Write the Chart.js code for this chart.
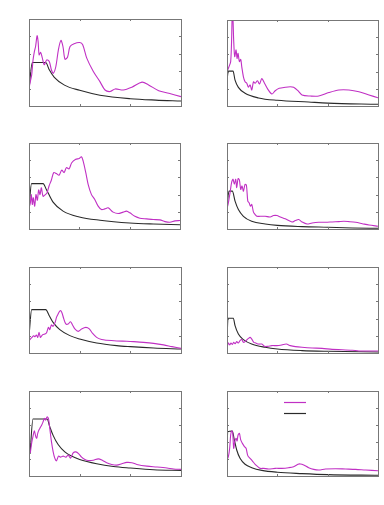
<!DOCTYPE html>
<html>
<head>
<meta charset="utf-8">
<script src="https://cdn.jsdelivr.net/npm/chart.js@4/dist/chart.umd.min.js"></script>
<style>
  html, body { margin: 0; padding: 0; background: #fff; }
  body { width: 384px; height: 505px; position: relative; overflow: hidden; }
  .panel { position: absolute; }
</style>
</head>
<body>
<div class="panel" id="p1" style="left:26px;top:16px;width:158px;height:93px"><canvas id="c1"></canvas></div>
<div class="panel" id="p2" style="left:224px;top:17px;width:157px;height:92px"><canvas id="c2"></canvas></div>
<div class="panel" id="p3" style="left:26px;top:140px;width:157px;height:92px"><canvas id="c3"></canvas></div>
<div class="panel" id="p4" style="left:224px;top:140px;width:157px;height:92px"><canvas id="c4"></canvas></div>
<div class="panel" id="p5" style="left:26px;top:264px;width:158px;height:92px"><canvas id="c5"></canvas></div>
<div class="panel" id="p6" style="left:224px;top:264px;width:157px;height:92px"><canvas id="c6"></canvas></div>
<div class="panel" id="p7" style="left:26px;top:388px;width:158px;height:91px"><canvas id="c7"></canvas></div>
<div class="panel" id="p8" style="left:224px;top:388px;width:157px;height:91px"><canvas id="c8"></canvas></div>
<script>
// axis ranges and tick positions
const xTicks = [0, 1, 2, 3];
const yTicks = [0, 1, 2, 3, 4, 5];

// record spectra (purple), period and value per panel
const recT1 = [0, 0.026, 0.053, 0.08, 0.106, 0.13, 0.16, 0.18, 0.2, 0.23, 0.26, 0.3, 0.35, 0.4, 0.44, 0.48, 0.53, 0.58, 0.63, 0.67, 0.71, 0.76, 0.81, 0.89, 1.0, 1.06, 1.14, 1.27, 1.4, 1.5, 1.6, 1.7, 1.86, 2.03, 2.23, 2.36, 2.56, 2.76, 3.0];
const recSa1 = [1.02, 1.4, 1.79, 2.65, 3.13, 3.42, 4.04, 3.7, 2.94, 3.08, 2.8, 2.37, 2.65, 2.56, 2.1, 1.88, 2.27, 3.23, 3.77, 3.42, 2.69, 2.8, 3.42, 3.58, 3.65, 3.52, 2.75, 1.98, 1.4, 0.92, 0.83, 0.98, 0.92, 1.08, 1.37, 1.21, 0.88, 0.73, 0.54];

const recT2 = [0, 0.04, 0.073, 0.093, 0.106, 0.12, 0.133, 0.153, 0.18, 0.2, 0.22, 0.246, 0.273, 0.293, 0.326, 0.359, 0.393, 0.426, 0.459, 0.492, 0.526, 0.559, 0.605, 0.645, 0.692, 0.745, 0.812, 0.892, 0.958, 1.038, 1.158, 1.258, 1.324, 1.41, 1.49, 1.657, 1.823, 2.023, 2.222, 2.422, 2.621, 2.821, 3.0];
const recSa2 = [2.0, 2.29, 2.58, 4.0, 5.8, 5.0, 3.8, 2.87, 3.26, 2.77, 3.06, 2.58, 2.71, 2.29, 1.7, 1.41, 1.32, 1.09, 1.22, 0.93, 1.41, 1.32, 1.47, 1.28, 1.59, 1.32, 0.97, 0.7, 0.89, 1.03, 1.09, 1.12, 1.09, 0.89, 0.64, 0.58, 0.58, 0.78, 0.93, 0.93, 0.83, 0.64, 0.48];

const recT3 = [0, 0.027, 0.046, 0.066, 0.086, 0.113, 0.139, 0.166, 0.192, 0.219, 0.246, 0.279, 0.325, 0.358, 0.398, 0.445, 0.491, 0.544, 0.597, 0.65, 0.697, 0.743, 0.796, 0.849, 0.929, 0.995, 1.042, 1.075, 1.128, 1.175, 1.241, 1.307, 1.374, 1.44, 1.506, 1.573, 1.672, 1.772, 1.871, 1.938, 2.004, 2.104, 2.203, 2.336, 2.468, 2.601, 2.701, 2.8, 2.9, 3.0];
const recSa3 = [1.23, 1.52, 2.0, 1.43, 1.82, 1.33, 2.0, 1.67, 2.27, 2.0, 2.4, 1.9, 2.0, 2.1, 2.5, 2.85, 3.28, 3.22, 3.13, 3.42, 3.28, 3.57, 3.5, 3.85, 4.05, 4.1, 4.2, 3.96, 3.28, 2.6, 2.0, 1.72, 1.33, 1.13, 1.17, 1.23, 0.98, 0.9, 0.98, 1.04, 0.94, 0.74, 0.63, 0.59, 0.55, 0.53, 0.43, 0.39, 0.47, 0.49];

const recT4 = [0, 0.027, 0.06, 0.093, 0.12, 0.146, 0.173, 0.193, 0.22, 0.246, 0.273, 0.299, 0.326, 0.359, 0.386, 0.413, 0.439, 0.466, 0.492, 0.526, 0.559, 0.592, 0.659, 0.758, 0.858, 0.925, 0.992, 1.058, 1.158, 1.291, 1.357, 1.424, 1.49, 1.59, 1.69, 1.823, 1.956, 2.089, 2.222, 2.322, 2.422, 2.555, 2.688, 2.821, 3.0];
const recSa4 = [1.17, 1.52, 2.1, 2.73, 2.89, 2.6, 2.89, 2.4, 2.93, 2.85, 2.3, 2.5, 2.2, 2.6, 2.54, 1.62, 1.52, 1.33, 1.43, 0.98, 0.84, 0.74, 0.74, 0.74, 0.7, 0.78, 0.78, 0.7, 0.59, 0.41, 0.49, 0.55, 0.41, 0.29, 0.35, 0.39, 0.39, 0.41, 0.43, 0.45, 0.43, 0.39, 0.31, 0.23, 0.16];

const recT5 = [0, 0.026, 0.059, 0.093, 0.119, 0.145, 0.172, 0.198, 0.225, 0.251, 0.278, 0.311, 0.344, 0.383, 0.41, 0.443, 0.476, 0.516, 0.542, 0.575, 0.615, 0.648, 0.687, 0.727, 0.773, 0.82, 0.859, 0.905, 0.972, 1.038, 1.124, 1.19, 1.256, 1.335, 1.434, 1.533, 1.732, 1.93, 2.062, 2.26, 2.459, 2.657, 2.822, 3.0];
const recSa5 = [0.72, 0.81, 0.91, 1.0, 0.95, 1.05, 0.91, 1.2, 0.91, 1.0, 1.07, 1.1, 1.16, 1.49, 1.36, 1.63, 1.55, 1.78, 2.07, 2.27, 2.46, 2.36, 1.98, 1.69, 1.69, 1.82, 1.63, 1.4, 1.26, 1.4, 1.49, 1.4, 1.14, 0.91, 0.78, 0.74, 0.7, 0.68, 0.66, 0.62, 0.56, 0.47, 0.37, 0.27];

const recT6 = [0, 0.027, 0.053, 0.08, 0.106, 0.133, 0.16, 0.193, 0.226, 0.259, 0.293, 0.326, 0.359, 0.399, 0.426, 0.459, 0.492, 0.532, 0.572, 0.625, 0.692, 0.745, 0.812, 0.892, 0.991, 1.091, 1.178, 1.257, 1.357, 1.49, 1.69, 1.89, 2.089, 2.289, 2.488, 2.621, 2.821, 3.0];
const recSa6 = [0.33, 0.58, 0.47, 0.58, 0.5, 0.62, 0.54, 0.66, 0.58, 0.72, 0.78, 0.62, 0.66, 0.78, 0.85, 0.91, 0.81, 0.62, 0.58, 0.52, 0.52, 0.39, 0.39, 0.43, 0.43, 0.47, 0.52, 0.43, 0.37, 0.33, 0.29, 0.27, 0.21, 0.19, 0.16, 0.12, 0.12, 0.12];

const recT7 = [0.026, 0.053, 0.079, 0.106, 0.132, 0.152, 0.172, 0.198, 0.225, 0.251, 0.278, 0.304, 0.33, 0.357, 0.383, 0.41, 0.443, 0.476, 0.509, 0.542, 0.582, 0.621, 0.674, 0.727, 0.773, 0.82, 0.872, 0.925, 0.978, 1.038, 1.104, 1.17, 1.269, 1.368, 1.454, 1.533, 1.632, 1.732, 1.831, 1.93, 2.029, 2.128, 2.327, 2.525, 2.723, 2.855, 3.0];
const recSa7 = [1.36, 1.95, 2.33, 2.66, 2.33, 2.22, 2.51, 2.72, 2.86, 3.0, 3.19, 3.39, 3.29, 3.48, 3.39, 2.8, 2.02, 1.44, 1.05, 0.89, 1.17, 1.11, 1.17, 1.11, 1.23, 1.05, 1.36, 1.42, 1.32, 1.11, 0.97, 0.91, 0.93, 1.01, 0.91, 0.78, 0.68, 0.64, 0.72, 0.8, 0.78, 0.68, 0.58, 0.53, 0.47, 0.41, 0.39];

const recT8 = [0, 0.027, 0.053, 0.073, 0.093, 0.113, 0.133, 0.153, 0.18, 0.2, 0.22, 0.246, 0.273, 0.306, 0.346, 0.379, 0.413, 0.459, 0.506, 0.559, 0.612, 0.659, 0.725, 0.825, 0.958, 1.091, 1.224, 1.324, 1.41, 1.457, 1.524, 1.623, 1.723, 1.823, 1.956, 2.156, 2.355, 2.555, 2.755, 3.0];
const recSa8 = [0.94, 1.14, 1.63, 2.41, 2.65, 2.51, 1.63, 2.02, 2.22, 2.06, 2.41, 2.51, 2.12, 1.92, 1.73, 1.63, 1.2, 1.04, 0.88, 0.69, 0.55, 0.45, 0.45, 0.41, 0.45, 0.45, 0.49, 0.55, 0.69, 0.71, 0.65, 0.49, 0.39, 0.35, 0.41, 0.43, 0.41, 0.39, 0.35, 0.31];

// design spectra (black)
const desT1 = [0, 0.066, 0.33, 0.4, 0.5, 0.7, 1.0, 1.4, 2.0, 2.5, 3.0];
const desSa1 = [1.0, 2.5, 2.5, 2.08, 1.65, 1.2, 0.9, 0.62, 0.42, 0.34, 0.29];

const desT2 = [0, 0.027, 0.12, 0.16, 0.226, 0.359, 0.625, 1.0, 1.62, 2.0, 3.0];
const desSa2 = [1.5, 2.03, 2.03, 1.5, 1.08, 0.74, 0.47, 0.33, 0.23, 0.17, 0.1];

const desT3 = [0, 0.05, 0.28, 0.345, 0.478, 0.677, 1.0, 1.41, 2.0, 2.47, 3.0];
const desSa3 = [1.2, 2.64, 2.64, 2.3, 1.56, 1.04, 0.7, 0.51, 0.35, 0.29, 0.25];

const desT4 = [0, 0.04, 0.106, 0.16, 0.226, 0.326, 0.49, 0.76, 1.0, 1.49, 2.0, 2.49, 3.0];
const desSa4 = [1.3, 2.2, 2.2, 1.62, 1.13, 0.74, 0.45, 0.29, 0.21, 0.14, 0.1, 0.06, 0.04];

const desT5 = [0, 0.053, 0.33, 0.4, 0.476, 0.608, 0.806, 1.0, 1.335, 1.73, 2.0, 2.46, 3.0];
const desSa5 = [1.0, 2.52, 2.52, 2.17, 1.78, 1.36, 1.01, 0.81, 0.58, 0.43, 0.37, 0.29, 0.23];

const desT6 = [0, 0.02, 0.126, 0.16, 0.226, 0.326, 0.49, 0.758, 1.0, 1.49, 2.0, 3.0];
const desSa6 = [0.8, 2.02, 2.02, 1.59, 1.1, 0.78, 0.52, 0.33, 0.23, 0.14, 0.1, 0.06];

const desT7 = [0.02, 0.079, 0.357, 0.41, 0.476, 0.575, 0.707, 0.839, 1.0, 1.335, 1.666, 2.0, 2.46, 3.0];
const desSa7 = [1.3, 3.35, 3.35, 2.9, 2.39, 1.85, 1.42, 1.17, 0.97, 0.72, 0.56, 0.47, 0.37, 0.33];

const desT8 = [0, 0.013, 0.106, 0.146, 0.193, 0.259, 0.359, 0.492, 0.692, 1.0, 1.49, 2.0, 3.0];
const desSa8 = [0.9, 2.61, 2.65, 2.12, 1.53, 1.04, 0.69, 0.49, 0.33, 0.22, 0.14, 0.08, 0.04];

const recordColor = '#c030c4';
const designColor = '#2a2a2a';
const frameColor = '#777777';

function toPoints(xs, ys) {
    return xs.map((x, i) => ({ x: x, y: ys[i] }));
}

// box round the plot area with short ticks pointing inwards
const framePlugin = {
    id: 'frame',
    afterDatasetsDraw(chart) {
        const a = chart.chartArea;
        const c = chart.ctx;
        const xs = chart.scales.x;
        const ys = chart.scales.y;
        c.save();
        c.strokeStyle = frameColor;
        c.lineWidth = 1;
        c.strokeRect(Math.round(a.left) + 0.5, Math.round(a.top) + 0.5,
                     Math.round(a.right - a.left), Math.round(a.bottom - a.top));
        c.beginPath();
        xTicks.forEach(t => {
            const px = Math.round(xs.getPixelForValue(t)) + 0.5;
            c.moveTo(px, a.top); c.lineTo(px, a.top + 2);
            c.moveTo(px, a.bottom); c.lineTo(px, a.bottom - 2);
        });
        yTicks.forEach(t => {
            const py = Math.round(ys.getPixelForValue(t)) + 0.5;
            c.moveTo(a.left, py); c.lineTo(a.left + 2, py);
            c.moveTo(a.right, py); c.lineTo(a.right - 2, py);
        });
        c.stroke();
        c.restore();
    }
};

// legend samples in the last panel (no text)
const legendPlugin = {
    id: 'lineLegend',
    afterDatasetsDraw(chart, args, opts) {
        if (!opts.show) return;
        const a = chart.chartArea;
        const c = chart.ctx;
        c.save();
        c.lineWidth = 1.2;
        c.strokeStyle = recordColor;
        c.beginPath();
        c.moveTo(a.left + 57, a.top + 11.5); c.lineTo(a.left + 79, a.top + 11.5);
        c.stroke();
        c.strokeStyle = designColor;
        c.beginPath();
        c.moveTo(a.left + 57, a.top + 22.5); c.lineTo(a.left + 79, a.top + 22.5);
        c.stroke();
        c.restore();
    }
};

const panels = [
    [recT1, recSa1, desT1, desSa1],
    [recT2, recSa2, desT2, desSa2],
    [recT3, recSa3, desT3, desSa3],
    [recT4, recSa4, desT4, desSa4],
    [recT5, recSa5, desT5, desSa5],
    [recT6, recSa6, desT6, desSa6],
    [recT7, recSa7, desT7, desSa7],
    [recT8, recSa8, desT8, desSa8]
];

panels.forEach((p, i) => {
    const ctx = document.getElementById('c' + (i + 1)).getContext('2d');
    new Chart(ctx, {
        type: 'line',
        data: {
            datasets: [{
                label: 'record',
                data: toPoints(p[0], p[1]),
                borderColor: recordColor,
                borderWidth: 1.1,
                pointRadius: 0,
                tension: 0.3
            }, {
                label: 'design',
                data: toPoints(p[2], p[3]),
                borderColor: designColor,
                borderWidth: 1.1,
                pointRadius: 0,
                cubicInterpolationMode: 'monotone'
            }]
        },
        options: {
            responsive: true,
            maintainAspectRatio: false,
            animation: false,
            layout: { padding: 3 },
            scales: {
                x: { type: 'linear', min: 0, max: 3, display: false },
                y: { min: 0, max: 5, display: false }
            },
            plugins: {
                legend: { display: false },
                tooltip: { enabled: false },
                lineLegend: { show: i === 7 }
            }
        },
        plugins: [framePlugin, legendPlugin]
    });
});
</script>
</body>
</html>
